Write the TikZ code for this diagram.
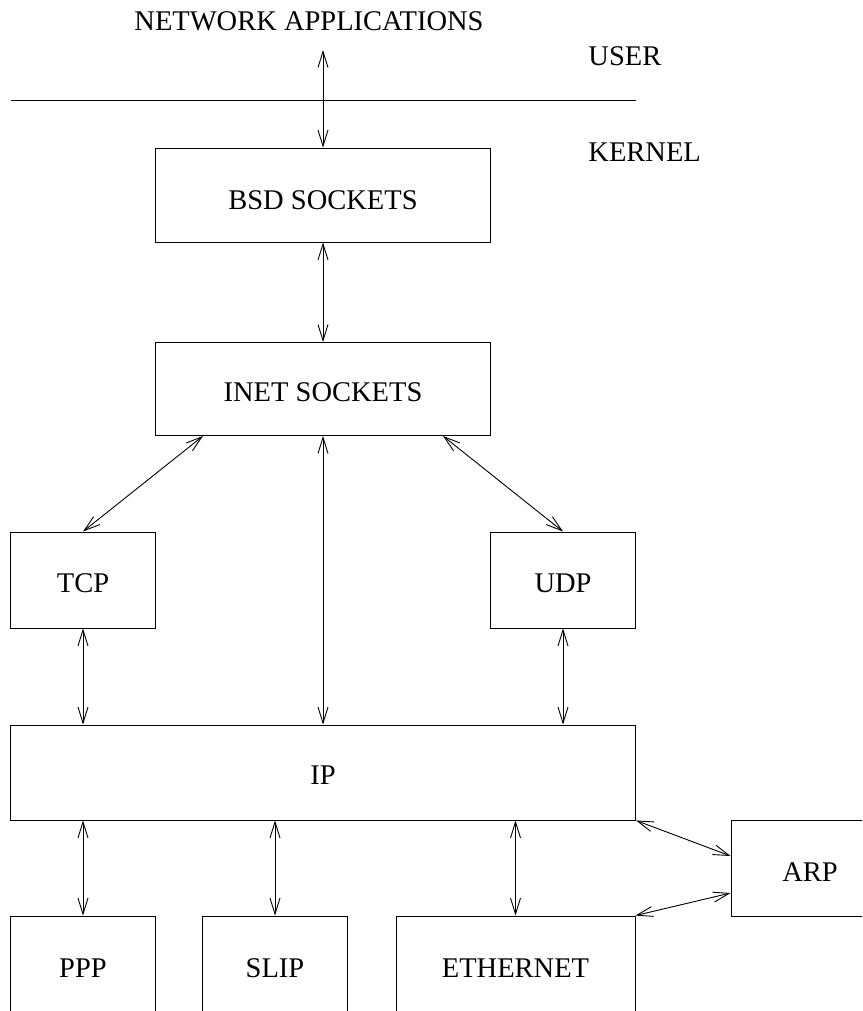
\documentclass[tikz,border=0pt]{standalone}
\usepackage{fontspec}
\setmainfont{Liberation Serif}
\usetikzlibrary{arrows.meta,calc}
\begin{document}
\begin{tikzpicture}[x=1pt,y=-1pt,
  line width=0.9pt,
  lbl/.style={font=\fontsize{28.5}{31}\selectfont, inner sep=0pt},
  layer/.style={draw, lbl},
  % lower the label inside its box by #1
  sink/.style={text height=18.9pt+2*#1},
  link/.style={{Straight Barb[length=16pt,width=10pt]}-{Straight Barb[length=16pt,width=10pt]}}]
  \path[use as bounding box, clip] (0,0) rectangle (862,1011);
  \fill[white] (0,0) rectangle (862,1011);

  % user / kernel boundary
  \node[lbl] (apps) at (309,21) {NETWORK APPLICATIONS};
  \node[lbl, anchor=west] (user) at (588,56) {USER};
  \node[lbl, anchor=west] (kernel) at (588,152.5) {KERNEL};
  \draw (11,100) -- (636,100);
  \coordinate (appin) at (323,50);

  % protocol layers
  \node[layer, sink=5pt, minimum width=335, minimum height=94] (bsd) at (323,195) {BSD SOCKETS};
  \node[layer, sink=3pt, minimum width=335, minimum height=93] (inet) at (323,389) {INET SOCKETS};
  \node[layer, sink=3.5pt, minimum width=145, minimum height=96] (tcp) at (83,580) {TCP};
  \node[layer, sink=3.5pt, minimum width=145, minimum height=96] (udp) at (563,580) {UDP};
  \node[layer, sink=3pt, minimum width=625, minimum height=95] (ip) at (323,772.5) {IP};
  \node[layer, sink=4pt, minimum width=158, minimum height=96] (arp) at (810,868) {ARP};

  % device drivers (running off the bottom edge)
  \node[layer, minimum width=145, minimum height=104] (ppp) at (83,968) {PPP};
  \node[layer, minimum width=145, minimum height=104] (slip) at (275,968) {SLIP};
  \node[layer, minimum width=239, minimum height=104] (eth) at (515.5,968) {ETHERNET};

  % connections
  \draw[link] (appin) -- (bsd.north);
  \draw[link] (bsd.south) -- (inet.north);
  \draw[link] ($(inet.south west)+(48,0)$) -- (tcp.north);
  \draw[link] ($(inet.south east)+(-48,0)$) -- (udp.north);
  \draw[link] (inet.south) -- (inet.south |- ip.north);
  \draw[link] (tcp.south) -- (tcp.south |- ip.north);
  \draw[link] (udp.south) -- (udp.south |- ip.north);
  \draw[link] (ppp.north |- ip.south) -- (ppp.north);
  \draw[link] (slip.north |- ip.south) -- (slip.north);
  \draw[link] (eth.north |- ip.south) -- (eth.north);
  \draw[link] (ip.south east) -- ($(arp.west)+(0,-12)$);
  \draw[link] (eth.north east) -- ($(arp.west)+(0,25)$);
\end{tikzpicture}
\end{document}
